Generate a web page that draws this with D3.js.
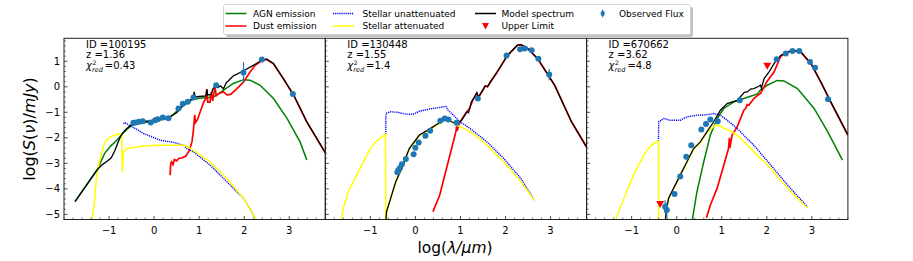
<!DOCTYPE html>
<html><head><meta charset="utf-8">
<script src="https://cdn.jsdelivr.net/npm/d3@7"></script>
<style>body{margin:0;background:#fff}svg{display:block;font-family:"DejaVu Sans",sans-serif}</style>
</head><body><svg id="c" width="913" height="261"></svg>
<script>
// ---------- data ----------
const xTicks = [-1, 0, 1, 2, 3];
const yTicks = [-5, -4, -3, -2, -1, 0, 1];
const ids = ["100195", "130448", "670662"];
const redshifts = ["1.36", "1.55", "3.62"];
const chi2 = ["0.43", "1.4", "4.8"];

// Panel 1
const agn1 = [[-1.756,-4.5],[-1.25,-3.2],[-1.1,-2.62],[-0.98,-2.35],[-0.87,-2.17],[-0.78,-2.0],[-0.7,-1.82],[-0.6,-1.66],[-0.5,-1.52],[-0.3,-1.42],[0,-1.36],[0.35,-1.21],[0.6,-0.8],[0.85,-0.5],[1.0,-0.45],[1.2,-0.42],[1.32,-0.4],[1.45,-0.25],[1.54,-0.13],[1.76,0.13],[1.985,0.28],[2.13,0.26],[2.355,0.06],[2.65,-0.46],[2.95,-1.24],[3.24,-2.16],[3.39,-2.87]];
const dust1 = [[0.355,-3.46],[0.37,-3.0],[0.39,-2.94],[0.42,-3.05],[0.45,-2.85],[0.5,-2.9],[0.55,-2.8],[0.6,-2.8],[0.7,-2.72],[0.78,-2.5],[0.84,-2.16],[0.87,-1.76],[0.9,-1.1],[0.92,-1.4],[0.96,-1.3],[1.02,-1.0],[1.1,-0.6],[1.15,-0.45],[1.17,-0.1],[1.19,-0.6],[1.24,-0.6],[1.27,-0.2],[1.3,-0.55],[1.35,0.0],[1.38,-0.35],[1.45,-0.25],[1.54,-0.2],[1.62,-0.32],[1.7,-0.3],[1.84,-0.07],[1.985,0.19],[2.13,0.58],[2.25,0.85],[2.39,1.03],[2.5,1.07],[2.65,0.9],[2.87,0.31],[3.1,-0.34],[3.39,-1.38],[3.8,-2.59]];
const stelUn1 = [[-0.68,-1.44],[-0.645,-1.40],[-0.533,-1.53],[-0.4,-1.65],[-0.237,-1.83],[0.133,-2.09],[0.43,-2.18],[0.652,-2.29],[0.726,-2.42],[0.874,-2.55],[1.244,-3.07],[1.615,-3.72],[1.985,-4.37],[2.3,-5.3]];
const stelAt1 = [[-1.385,-5.3],[-1.33,-4.6],[-1.274,-3.46],[-1.2,-2.81],[-1.09,-2.16],[-0.98,-1.96],[-0.83,-1.86],[-0.72,-1.87],[-0.705,-3.33],[-0.68,-2.55],[-0.6,-2.42],[-0.5,-2.39],[-0.24,-2.32],[0.13,-2.29],[0.5,-2.29],[0.69,-2.29],[0.87,-2.48],[1.24,-2.94],[1.615,-3.59],[1.985,-4.37],[2.3,-5.3]];
const model1 = [[-1.756,-4.5],[-1.237,-3.2],[-1.15,-3.05],[-1.05,-2.93],[-0.95,-2.78],[-0.87,-2.5],[-0.8,-2.17],[-0.74,-1.93],[-0.68,-1.78],[-0.6,-1.62],[-0.5,-1.48],[-0.4,-1.41],[-0.2,-1.36],[0.0,-1.31],[0.15,-1.25],[0.35,-1.18],[0.5,-1.02],[0.65,-0.73],[0.8,-0.53],[0.87,-0.42],[0.89,-0.2],[0.91,-0.4],[1.0,-0.38],[1.15,-0.36],[1.17,-0.1],[1.19,-0.32],[1.27,-0.3],[1.3,-0.1],[1.35,0.02],[1.42,-0.03],[1.47,0.04],[1.54,-0.08],[1.6,0.15],[1.76,0.43],[1.98,0.62],[2.2,0.84],[2.39,1.04],[2.5,1.08],[2.65,0.91],[2.87,0.32],[3.1,-0.33],[3.39,-1.37],[3.8,-2.58]];
const obsX1 = [-0.459,-0.40,-0.333,-0.252,-0.074,0.022,0.081,0.193,0.318,0.541,0.637,0.748,0.874,1.378,1.985,2.393,3.08];
const obsY1 = [-1.41,-1.40,-1.37,-1.35,-1.40,-1.31,-1.27,-1.20,-1.23,-0.85,-0.66,-0.59,-0.42,0.06,0.56,1.07,-0.28];
const obsE1 = [0,0,0,0,0,0,0,0,0,0,0,0,0.05,0.05,0.4,0.05,0.05];
const ulimX1 = [];
const ulimY1 = [];

// Panel 2
const agn2 = [];
const dust2 = [[0.39,-4.89],[0.54,-4.24],[0.69,-3.2],[0.84,-2.16],[0.9,-1.75],[0.914,-1.55],[0.93,-1.72],[0.96,-1.5],[1.026,-1.28],[1.139,-0.99],[1.2,-0.85],[1.289,-0.47],[1.364,-0.25],[1.40,-0.42],[1.514,-0.08],[1.55,0.03],[1.6,0.0],[1.664,0.18],[1.814,0.57],[2.04,1.22],[2.265,1.63],[2.34,1.65],[2.49,1.50],[2.715,1.10],[3.09,0.06],[3.465,-1.37],[3.84,-2.48]];
const stelUn2 = [[-0.66,-1.86],[-0.655,-1.05],[-0.625,-1.02],[-0.55,-0.98],[-0.4,-1.0],[-0.21,-1.07],[-0.06,-1.08],[0.088,-0.96],[0.313,-0.87],[0.614,-0.79],[0.68,-0.77],[0.726,-0.92],[0.84,-1.11],[0.99,-1.37],[1.21,-1.63],[1.59,-2.16],[1.96,-2.81],[2.34,-3.59],[2.64,-4.44]];
const stelAt2 = [[-1.65,-5.3],[-1.6,-4.76],[-1.49,-4.11],[-1.34,-3.59],[-1.19,-3.07],[-1.04,-2.55],[-0.89,-2.16],[-0.74,-1.96],[-0.665,-1.86],[-0.66,-5.35],[-0.645,-5.35],[-0.64,-4.92],[-0.55,-4.40],[-0.437,-3.75],[-0.287,-3.16],[-0.137,-2.45],[0.088,-1.92],[0.313,-1.69],[0.538,-1.43],[0.689,-1.27],[0.8,-1.36],[0.914,-1.50],[1.0,-1.57],[1.21,-1.76],[1.51,-2.16],[1.96,-2.94],[2.34,-3.72],[2.64,-4.44]];
const model2 = [[-0.66,-5.35],[-0.64,-4.89],[-0.55,-4.37],[-0.437,-3.72],[-0.287,-3.13],[-0.137,-2.42],[0.088,-1.89],[0.313,-1.66],[0.538,-1.40],[0.689,-1.24],[0.8,-1.37],[0.914,-1.44],[1.026,-1.31],[1.139,-0.98],[1.18,-1.02],[1.24,-0.6],[1.289,-0.46],[1.364,-0.23],[1.40,-0.40],[1.514,-0.07],[1.55,0.04],[1.6,0.0],[1.664,0.19],[1.814,0.58],[2.04,1.23],[2.265,1.63],[2.34,1.65],[2.49,1.50],[2.715,1.10],[3.09,0.06],[3.465,-1.37],[3.84,-2.48]];
const obsX2 = [-0.40,-0.377,-0.34,-0.30,-0.212,-0.04,-0.002,0.073,0.223,0.328,0.553,0.651,0.734,0.914,1.386,2.024,2.325,2.43,2.58,2.73,2.97];
const obsY2 = [-3.35,-3.26,-3.17,-3.04,-2.83,-2.64,-2.39,-2.18,-1.92,-1.72,-1.33,-1.24,-1.28,-1.41,-0.46,1.23,1.47,1.50,1.43,1.10,0.48];
const obsE2 = [0,0,0,0,0,0,0,0,0,0,0,0,0,0,0.05,0.05,0.05,0.05,0.05,0.05,0.22];
const ulimX2 = [];
const ulimY2 = [];

// Panel 3
const agn3 = [[0.338,-5.3],[0.45,-4.11],[0.6,-2.94],[0.747,-1.89],[0.9,-1.24],[1.045,-0.85],[1.27,-0.59],[1.49,-0.46],[1.64,-0.37],[1.79,-0.28],[1.86,-0.13],[2.01,0.06],[2.23,0.25],[2.38,0.23],[2.68,-0.07],[3.05,-0.85],[3.35,-1.76],[3.68,-2.87]];
const dust3 = [[0.66,-5.13],[0.747,-4.63],[0.896,-3.98],[1.045,-3.07],[1.15,-2.42],[1.17,-2.0],[1.18,-2.4],[1.23,-1.89],[1.342,-1.57],[1.49,-0.92],[1.53,-0.85],[1.565,-0.70],[1.6,-0.72],[1.714,-0.46],[1.8,-0.33],[1.862,-0.26],[1.94,0.0],[2.0,0.2],[2.16,0.58],[2.31,1.2],[2.46,1.36],[2.6,1.42],[2.755,1.36],[2.98,0.90],[3.2,0.18],[3.42,-0.60],[3.80,-1.90]];
const stelUn3 = [[-0.405,-2.13],[-0.40,-1.37],[-0.37,-1.35],[-0.29,-1.24],[-0.15,-1.31],[0.08,-1.31],[0.227,-1.18],[0.45,-1.11],[0.65,-1.10],[0.82,-1.05],[0.97,-1.11],[1.12,-1.31],[1.34,-1.63],[1.71,-2.29],[2.09,-3.07],[2.46,-3.85],[2.9,-4.70]];
const stelAt3 = [[-1.37,-5.3],[-1.26,-4.76],[-1.11,-4.11],[-0.96,-3.46],[-0.81,-2.94],[-0.665,-2.48],[-0.517,-2.22],[-0.405,-2.13],[-0.40,-5.35],[-0.257,-5.35],[-0.234,-4.92],[-0.18,-4.40],[-0.07,-4.0],[0.078,-3.49],[0.227,-2.97],[0.375,-2.45],[0.524,-2.19],[0.673,-1.79],[0.86,-1.5],[0.95,-1.52],[1.045,-1.63],[1.156,-1.70],[1.25,-1.80],[1.42,-2.02],[1.714,-2.55],[2.09,-3.20],[2.46,-3.98],[2.9,-4.76]];
const model3 = [[-0.257,-5.35],[-0.234,-4.89],[-0.18,-4.37],[-0.07,-3.98],[0.078,-3.46],[0.227,-2.94],[0.375,-2.42],[0.524,-2.16],[0.673,-1.76],[0.822,-1.37],[0.97,-0.92],[1.12,-0.66],[1.342,-0.53],[1.5,-0.22],[1.565,-0.2],[1.65,-0.08],[1.714,-0.07],[1.8,0.0],[1.862,0.06],[1.88,-0.05],[1.94,0.32],[2.05,0.58],[2.16,0.91],[2.31,1.23],[2.46,1.37],[2.6,1.43],[2.755,1.37],[2.98,0.91],[3.2,0.19],[3.42,-0.59],[3.80,-1.89]];
const obsX3 = [-0.257,-0.22,-0.048,0.078,0.212,0.323,0.547,0.65,0.747,0.91,1.40,2.22,2.42,2.57,2.72,2.96,3.07,3.36];
const obsY3 = [-4.70,-4.83,-4.20,-3.52,-2.74,-2.29,-1.67,-1.46,-1.28,-1.35,-0.53,1.08,1.30,1.40,1.40,0.97,0.75,-0.49];
const obsE3 = [0.25,0.3,0,0,0,0,0,0,0,0,0,0,0,0,0,0,0,0];
const ulimX3 = [-0.368, 2.01];
const ulimY3 = [-4.61, 0.80];

const legendLabels = [["AGN emission","Dust emission"],["Stellar unattenuated","Stellar attenuated"],["Model spectrum","Upper Limit"],["Observed Flux"]];

(function () {
const svg = d3.select("#c");
const W = 261.3, T = 38.3, H = 181.2;
const lefts = [64, 64 + W, 64 + 2 * W];
const xDom = [-2, 3.8], yDom = [-5.2, 1.9];
const C = {agn:"#008000", dust:"#ff0000", un:"#0000ff", at:"#ffff00", model:"#000000", obs:"#1f77b4", ul:"#ff0000"};
const UNDASH = "1.2,0.9";

const panels = [
  {agn:agn1, dust:dust1, un:stelUn1, at:stelAt1, model:model1, ox:obsX1, oy:obsY1, oe:obsE1, ux:ulimX1, uy:ulimY1},
  {agn:agn2, dust:dust2, un:stelUn2, at:stelAt2, model:model2, ox:obsX2, oy:obsY2, oe:obsE2, ux:ulimX2, uy:ulimY2},
  {agn:agn3, dust:dust3, un:stelUn3, at:stelAt3, model:model3, ox:obsX3, oy:obsY3, oe:obsE3, ux:ulimX3, uy:ulimY3}
];

const minorX = d3.range(-2, 3.81, 0.2).map(v => Math.round(v * 10) / 10).filter(v => !xTicks.includes(v));
const minorY = d3.range(-5.2, 1.91, 0.2).map(v => Math.round(v * 10) / 10).filter(v => !yTicks.includes(v));

panels.forEach((p, i) => {
  const x = d3.scaleLinear().domain(xDom).range([lefts[i], lefts[i] + W]);
  const y = d3.scaleLinear().domain(yDom).range([T + H, T]);
  const g = svg.append("g");
  const cid = "clip" + i;
  svg.append("clipPath").attr("id", cid).append("rect").attr("x", lefts[i]).attr("y", T).attr("width", W).attr("height", H);
  const plot = g.append("g").attr("clip-path", `url(#${cid})`);
  const line = d3.line().x(d => x(d[0])).y(d => y(d[1]));

  if (p.agn.length) plot.append("path").attr("d", line(p.agn)).attr("fill","none").attr("stroke",C.agn).attr("stroke-width",1.5);
  plot.append("path").attr("d", line(p.dust)).attr("fill","none").attr("stroke",C.dust).attr("stroke-width",1.7);
  plot.append("path").attr("d", line(p.un)).attr("fill","none").attr("stroke",C.un).attr("stroke-width",1.4).attr("stroke-dasharray",UNDASH);
  plot.append("path").attr("d", line(p.at)).attr("fill","none").attr("stroke",C.at).attr("stroke-width",1.5);
  plot.append("path").attr("d", line(p.model)).attr("fill","none").attr("stroke",C.model).attr("stroke-width",1.3);

  p.ox.forEach((vx, k) => {
    const e = p.oe[k];
    if (e > 0) plot.append("line").attr("x1", x(vx)).attr("x2", x(vx)).attr("y1", y(p.oy[k] - e)).attr("y2", y(p.oy[k] + e)).attr("stroke", C.obs).attr("stroke-width", 1.2);
    plot.append("circle").attr("cx", x(vx)).attr("cy", y(p.oy[k])).attr("r", 3).attr("fill", C.obs);
  });
  p.ux.forEach((vx, k) => {
    const cx = x(vx), cy = y(p.uy[k]);
    plot.append("path").attr("d", `M${cx-4},${cy-3.5}L${cx+4},${cy-3.5}L${cx},${cy+3.5}Z`).attr("fill", C.ul);
  });

  g.append("rect").attr("x", lefts[i]).attr("y", T).attr("width", W).attr("height", H).attr("fill","none").attr("stroke","#222").attr("stroke-width",1);

  const yb = T + H;
  xTicks.forEach(t => {
    g.append("line").attr("x1", x(t)).attr("x2", x(t)).attr("y1", yb).attr("y2", yb - 3.5).attr("stroke","#222").attr("stroke-width",0.8);
    g.append("text").attr("x", x(t)).attr("y", yb + 14).attr("text-anchor","middle").attr("font-size",10).text(d3.format("d")(t));
  });
  minorX.forEach(t => g.append("line").attr("x1", x(t)).attr("x2", x(t)).attr("y1", yb).attr("y2", yb - 2).attr("stroke","#222").attr("stroke-width",0.6));
  const xl = lefts[i];
  yTicks.forEach(t => {
    g.append("line").attr("x1", xl).attr("x2", xl + 3.5).attr("y1", y(t)).attr("y2", y(t)).attr("stroke","#222").attr("stroke-width",0.8);
    if (i === 0) g.append("text").attr("x", xl - 4).attr("y", y(t)).attr("dy","0.35em").attr("text-anchor","end").attr("font-size",10).text(d3.format("d")(t));
  });
  minorY.forEach(t => g.append("line").attr("x1", xl).attr("x2", xl + 2).attr("y1", y(t)).attr("y2", y(t)).attr("stroke","#222").attr("stroke-width",0.6));

  const tx = lefts[i] + 22;
  g.append("text").attr("x", tx).attr("y", 48).attr("font-size",10).text("ID =" + ids[i]);
  g.append("text").attr("x", tx).attr("y", 58).attr("font-size",10).text("z =" + redshifts[i]);
  const chiT = g.append("text").attr("x", tx).attr("y", 69).attr("font-size",10);
  chiT.append("tspan").attr("font-style","italic").text("χ");
  chiT.append("tspan").attr("font-size",6).attr("dy",-4).attr("dx",0.5).text("2");
  chiT.append("tspan").attr("font-size",6.5).attr("font-style","italic").attr("x", tx + 6).attr("dy",6.5).text("red");
  chiT.append("tspan").attr("dy",-2.5).attr("dx",2).text("=" + chi2[i]);
});

svg.append("text").attr("x", 455).attr("y", 253).attr("text-anchor","middle").attr("font-size",15.5)
  .html('log(<tspan font-style="italic">λ/μm</tspan>)');
svg.append("text").attr("transform","translate(35,129) rotate(-90)").attr("text-anchor","middle").attr("font-size",16)
  .html('log(<tspan font-style="italic">S</tspan>(<tspan font-style="italic">ν</tspan>)/<tspan font-style="italic">mJy</tspan>)');

const lg = svg.append("g");
lg.append("rect").attr("x", 226).attr("y", 7).attr("width", 467).attr("height", 30).attr("rx", 2).attr("fill", "#999").attr("opacity", 0.6);
lg.append("rect").attr("x", 223.5).attr("y", 4.5).attr("width", 467).attr("height", 30).attr("rx", 2).attr("fill", "#fff").attr("stroke", "#ccc").attr("stroke-width", 0.8);
const rows = [13.5, 26];
const colLine = [225.5, 333, 475];
const colText = [253, 362.5, 501.5];
const legStyles = [[C.agn, C.dust], [C.un, C.at], [C.model, null]];
legStyles.forEach((col, c) => {
  col.forEach((clr, r) => {
    if (clr) {
      const ln = lg.append("line").attr("x1", colLine[c]).attr("x2", colLine[c] + 21).attr("y1", rows[r]).attr("y2", rows[r]).attr("stroke", clr).attr("stroke-width", 1.5);
      if (c === 1 && r === 0) ln.attr("stroke-dasharray", UNDASH).attr("stroke-width", 1.4);
    }
    lg.append("text").attr("x", colText[c]).attr("y", rows[r]).attr("dy", "0.35em").attr("font-size", 9).text(legendLabels[c][r]);
  });
});
{ const cx = colLine[2] + 10.5, cy = rows[1];
  lg.append("path").attr("d", `M${cx-3.5},${cy-3}L${cx+3.5},${cy-3}L${cx},${cy+3.5}Z`).attr("fill", C.ul); }
{ const cx = 602.7, cy = rows[0];
  lg.append("line").attr("x1", cx).attr("x2", cx).attr("y1", cy - 4).attr("y2", cy + 4).attr("stroke", C.obs).attr("stroke-width", 1);
  lg.append("ellipse").attr("cx", cx).attr("cy", cy).attr("rx", 2).attr("ry", 2.8).attr("fill", C.obs);
  lg.append("text").attr("x", 619).attr("y", cy).attr("dy", "0.35em").attr("font-size", 9).text(legendLabels[3][0]); }
})();
</script></body></html>
